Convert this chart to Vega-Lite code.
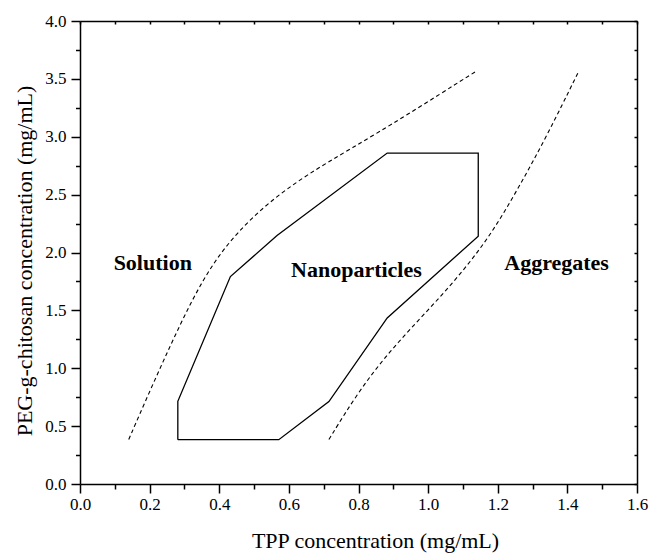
{
  "$schema": "https://vega.github.io/schema/vega-lite/v6.json",
  "autosize": {"type": "none"},
  "width": 557,
  "height": 463,
  "padding": {"left": 80, "top": 21, "right": 14, "bottom": 69},
  "background": "white",
  "config": {
    "view": {"stroke": null},
    "font": "Times New Roman, Liberation Serif, Times, serif",
    "axis": {
      "grid": false,
      "domainColor": "black",
      "domainWidth": 1.5,
      "tickColor": "black",
      "tickWidth": 1.5,
      "labelFont": "Times New Roman, Liberation Serif, Times, serif",
      "labelFontSize": 17,
      "labelColor": "black",
      "labelOverlap": false,
      "labelFlush": false,
      "titleFont": "Times New Roman, Liberation Serif, Times, serif",
      "titleFontSize": 22,
      "titleFontWeight": "normal",
      "titleColor": "black"
    }
  },
  "datasets": {
    "region": [
      {"i": 1, "x": 0.281, "y": 0.383},
      {"i": 2, "x": 0.571, "y": 0.383},
      {"i": 3, "x": 0.715, "y": 0.712},
      {"i": 4, "x": 0.8825, "y": 1.435},
      {"i": 5, "x": 1.144, "y": 2.141},
      {"i": 6, "x": 1.144, "y": 2.859},
      {"i": 7, "x": 0.8825, "y": 2.859},
      {"i": 8, "x": 0.566, "y": 2.147},
      {"i": 9, "x": 0.432, "y": 1.792},
      {"i": 10, "x": 0.281, "y": 0.714},
      {"i": 11, "x": 0.281, "y": 0.383}
    ],
    "bounds": [
      {"curve": "solution", "x": 0.14, "y": 0.385},
      {"curve": "solution", "x": 0.2, "y": 0.8},
      {"curve": "solution", "x": 0.26, "y": 1.2},
      {"curve": "solution", "x": 0.32, "y": 1.58},
      {"curve": "solution", "x": 0.38, "y": 1.9},
      {"curve": "solution", "x": 0.45, "y": 2.17},
      {"curve": "solution", "x": 0.54, "y": 2.43},
      {"curve": "solution", "x": 0.65, "y": 2.67},
      {"curve": "solution", "x": 0.78, "y": 2.9},
      {"curve": "solution", "x": 0.93, "y": 3.17},
      {"curve": "solution", "x": 1.14, "y": 3.57},
      {"curve": "aggregates", "x": 0.715, "y": 0.385},
      {"curve": "aggregates", "x": 0.8, "y": 0.8},
      {"curve": "aggregates", "x": 0.89, "y": 1.15},
      {"curve": "aggregates", "x": 0.99, "y": 1.47},
      {"curve": "aggregates", "x": 1.09, "y": 1.8},
      {"curve": "aggregates", "x": 1.18, "y": 2.15},
      {"curve": "aggregates", "x": 1.26, "y": 2.56},
      {"curve": "aggregates", "x": 1.34, "y": 3.0},
      {"curve": "aggregates", "x": 1.43, "y": 3.55}
    ],
    "labels": [
      {"x": 0.209, "y": 1.85, "text": "Solution"},
      {"x": 0.794, "y": 1.79, "text": "Nanoparticles"},
      {"x": 1.369, "y": 1.85, "text": "Aggregates"}
    ]
  },
  "resolve": {"axis": {"x": "independent", "y": "independent"}},
  "layer": [
    {
      "data": {"name": "region"},
      "mark": {"type": "line", "color": "black", "strokeWidth": 1.3, "interpolate": "linear"},
      "encoding": {
        "x": {
          "field": "x", "type": "quantitative",
          "scale": {"domain": [0, 1.6], "nice": false},
          "axis": {
            "orient": "bottom",
            "title": "TPP concentration (mg/mL)",
            "values": [0, 0.1, 0.2, 0.3, 0.4, 0.5, 0.6, 0.7, 0.8, 0.9, 1.0, 1.1, 1.2, 1.3, 1.4, 1.5, 1.6],
            "tickSize": {"condition": {"test": "round(datum.value*10) % 2 == 0", "value": 9}, "value": 5},
            "labelExpr": "round(datum.value*10) % 2 == 0 ? format(datum.value, '.1f') : ''",
            "labelPadding": 3,
            "titleX": 295,
            "titleY": 63,
            "titleBaseline": "alphabetic",
            "titleAlign": "center"
          }
        },
        "y": {
          "field": "y", "type": "quantitative",
          "scale": {"domain": [0, 4], "nice": false},
          "axis": {
            "orient": "left",
            "title": "PEG-g-chitosan concentration (mg/mL)",
            "values": [0, 0.25, 0.5, 0.75, 1, 1.25, 1.5, 1.75, 2, 2.25, 2.5, 2.75, 3, 3.25, 3.5, 3.75, 4],
            "tickSize": {"condition": {"test": "round(datum.value*4) % 2 == 0", "value": 9}, "value": 4.5},
            "labelExpr": "round(datum.value*4) % 2 == 0 ? format(datum.value, '.1f') : ''",
            "labelPadding": 5,
            "titleAngle": -90,
            "titleX": -48.5,
            "titleY": 239.5,
            "titleBaseline": "alphabetic",
            "titleAlign": "center"
          }
        },
        "order": {"field": "i", "type": "quantitative"}
      }
    },
    {
      "data": {"name": "bounds"},
      "mark": {"type": "line", "color": "black", "strokeWidth": 1.1, "strokeDash": [4, 3], "interpolate": "basis"},
      "encoding": {
        "x": {
          "field": "x", "type": "quantitative",
          "scale": {"domain": [0, 1.6], "nice": false},
          "axis": {
            "orient": "top",
            "title": null,
            "labels": false,
            "values": [0, 0.1, 0.2, 0.3, 0.4, 0.5, 0.6, 0.7, 0.8, 0.9, 1.0, 1.1, 1.2, 1.3, 1.4, 1.5, 1.6],
            "tickSize": -3
          }
        },
        "y": {
          "field": "y", "type": "quantitative",
          "scale": {"domain": [0, 4], "nice": false},
          "axis": {
            "orient": "right",
            "title": null,
            "labels": false,
            "values": [0, 0.25, 0.5, 0.75, 1, 1.25, 1.5, 1.75, 2, 2.25, 2.5, 2.75, 3, 3.25, 3.5, 3.75, 4],
            "tickSize": -3
          }
        },
        "detail": {"field": "curve", "type": "nominal"}
      }
    },
    {
      "data": {"name": "labels"},
      "mark": {"type": "text", "font": "Times New Roman, Liberation Serif, Times, serif", "fontWeight": "bold", "fontSize": 22, "align": "center", "baseline": "alphabetic", "color": "black"},
      "encoding": {
        "x": {"field": "x", "type": "quantitative", "scale": {"domain": [0, 1.6], "nice": false}, "axis": null},
        "y": {"field": "y", "type": "quantitative", "scale": {"domain": [0, 4], "nice": false}, "axis": null},
        "text": {"field": "text"}
      }
    }
  ]
}
